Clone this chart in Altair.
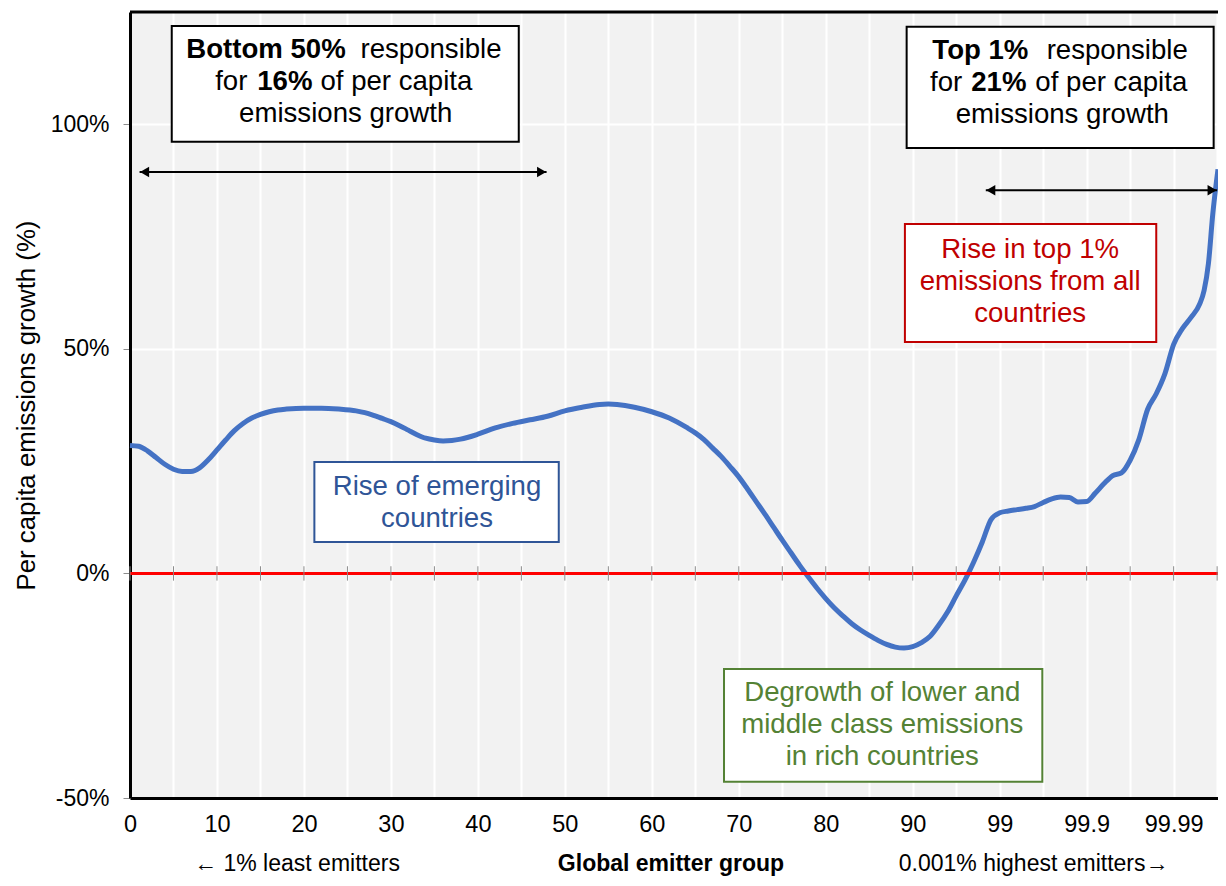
import altair as alt
import pandas as pd

FONT = "Liberation Sans, Arial, Helvetica, sans-serif"

# ---- data -------------------------------------------------------------------
# position along the emitter-group axis (category index) and growth in %
group_index = [0, 1, 2, 3, 4, 5, 6, 7, 8, 9, 10, 11, 12, 13, 14, 15, 16, 17, 18,
               20, 22, 24, 26, 27, 28, 29, 30, 31, 32, 33, 34, 35, 36, 37, 38,
               40, 42, 44, 46, 48, 50, 52, 54, 55, 56, 58, 60, 62, 64,
               65, 66, 67, 68, 69, 70, 71, 72, 73, 74, 75, 76, 77, 78, 79, 80,
               81, 82, 83, 84, 85, 86, 87, 88, 89, 90, 91, 92, 93, 94, 95, 96,
               97, 98, 99, 100, 101, 102, 103, 104, 105, 106, 107, 108, 109, 110,
               111, 112, 113, 114, 115, 116, 117, 118, 119, 120, 121, 122, 123,
               123.5, 124, 124.5, 125.1]
growth_pct = [28.5, 28.3, 27.3, 25.8, 24.3, 23.2, 22.7, 22.7, 23.5, 25.3, 27.5, 29.7,
              31.8, 33.4, 34.6, 35.4, 36.0, 36.4, 36.6,
              36.8, 36.8, 36.6, 36.2, 35.8, 35.2, 34.5, 33.8, 32.9, 31.9, 30.9, 30.1,
              29.7, 29.5, 29.6, 29.9,
              31.0, 32.4, 33.4, 34.2, 35.0, 36.2, 37.0, 37.6, 37.7, 37.6, 37.0, 36.0,
              34.6, 32.5,
              31.3, 29.8, 27.9, 26.0, 23.8, 21.5, 18.8, 16.0, 13.2, 10.3, 7.4, 4.6,
              1.8, -0.8, -3.3, -5.6, -7.7, -9.5, -11.2, -12.6, -13.8, -14.9, -15.8,
              -16.4, -16.6, -16.3, -15.4, -14.0, -11.5, -8.6, -5.0, -1.5, 2.5, 7.0,
              12.0, 13.5, 13.9, 14.2, 14.5, 14.9, 15.8, 16.6, 17.0, 16.9, 15.9, 16.0,
              17.9, 20.0, 21.8, 22.4, 25.2, 29.8, 36.5, 40.0, 44.5, 51.0, 54.5, 57.0,
              60.0, 63.0, 69.0, 80.0, 90.0]

tick_positions = [0, 10, 20, 30, 40, 50, 60, 70, 80, 90, 100, 110, 120]
tick_labels = ["0", "10", "20", "30", "40", "50", "60", "70", "80", "90",
               "99", "99.9", "99.99"]
grid_positions = list(range(0, 126, 5))
y_ticks = [-50, 0, 50, 100]

# annotation boxes (data units)
box_x = [4.8, 89.3, 89.1, 21.2, 68.3]
box_x2 = [44.7, 124.6, 118.0, 49.3, 104.9]
box_y = [121.9, 121.7, 77.8, 24.8, -21.3]
box_y2 = [96.1, 94.7, 51.5, 7.0, -46.4]
box_color = ["#000000", "#000000", "#c00000", "#2f5597", "#548235"]

# double arrows (data units)
arrow_x1 = [1.1, 98.4]
arrow_x2 = [47.9, 125.0]
arrow_y = [89.4, 85.3]

RED, BLUE, GREEN = "#c00000", "#2f5597", "#548235"
ANN = 27.6

# ---- scales / axes -----------------------------------------------------------
xs = alt.Scale(domain=[0, 125.1], nice=False, zero=False)
ys = alt.Scale(domain=[-50, 125], nice=False, zero=False)

pos_arr = "[" + ",".join(str(p) for p in tick_positions) + "]"
lab_arr = "[" + ",".join("'" + l + "'" for l in tick_labels) + "]"
label_expr = (f"indexof({pos_arr}, datum.value) >= 0 ? "
              f"{lab_arr}[indexof({pos_arr}, datum.value)] : ''")

x_axis = alt.Axis(values=grid_positions, labelExpr=label_expr, grid=True,
                  gridColor="white", gridWidth=2, ticks=False,
                  domainColor="black", domainWidth=3, labelFont=FONT,
                  labelFontSize=23.5, labelColor="black", labelPadding=14,
                  labelFlush=False, labelOverlap=False, title=None)
y_axis = alt.Axis(values=y_ticks, labelExpr="datum.value + '%'", grid=True,
                  gridColor="white", gridWidth=2, tickColor="#8c8c8c", tickSize=7,
                  domainColor="black", domainWidth=3, labelFont=FONT,
                  labelFontSize=23, labelColor="black", labelPadding=14,
                  labelFlush=False, labelOverlap=False,
                  title="Per capita emissions growth (%)", titleFont=FONT,
                  titleFontSize=25.8, titleFontWeight="normal", titleColor="black",
                  titleAngle=270, titleX=-104, titleY=393, titleAlign="center",
                  titleBaseline="middle")

curve_df = pd.DataFrame({"x": group_index, "y": growth_pct})

curve = alt.Chart(curve_df).mark_line(
    color="#4472c4", strokeWidth=5, interpolate="monotone"
).encode(x=alt.X("x:Q", scale=xs, axis=x_axis), y=alt.Y("y:Q", scale=ys, axis=y_axis))

boxes_df = pd.DataFrame({"x": box_x, "x2": box_x2, "y": box_y, "y2": box_y2, "c": box_color})
boxes = alt.Chart(boxes_df).mark_rect(fill="white", strokeWidth=2).encode(
    x="x:Q", x2="x2:Q", y="y:Q", y2="y2:Q", stroke=alt.Stroke("c:N", scale=None))

arrow_df = pd.DataFrame({"x": arrow_x1, "x2": arrow_x2, "y": arrow_y})
arrow_lines = alt.Chart(arrow_df).mark_rule(color="black", strokeWidth=2).encode(
    x="x:Q", x2="x2:Q", y="y:Q")
head_left = alt.Chart(arrow_df).mark_point(
    shape="triangle-left", filled=True, color="black", size=110, opacity=1, xOffset=5
).encode(x="x:Q", y="y:Q")
head_right = alt.Chart(arrow_df).mark_point(
    shape="triangle-right", filled=True, color="black", size=110, opacity=1, xOffset=-5
).encode(x="x2:Q", y="y:Q")

zero_line = alt.Chart(pd.DataFrame({"y": [0]})).mark_rule(
    color="#ff0000", strokeWidth=3).encode(y="y:Q")
zero_ticks = alt.Chart(pd.DataFrame({"x": grid_positions, "y": [-1.6] * len(grid_positions),
                                     "y2": [1.6] * len(grid_positions)})).mark_rule(
    color="#8c8c8c", strokeWidth=1).encode(x="x:Q", y="y:Q", y2="y2:Q")
top_border = alt.Chart(pd.DataFrame({"y": [125]})).mark_rule(
    color="black", strokeWidth=3).encode(y="y:Q")


def texts(rows, align, weight, color, size=ANN):
    df = pd.DataFrame(rows, columns=["x", "y", "t"])
    return alt.Chart(df).mark_text(
        align=align, baseline="middle", font=FONT, fontSize=size,
        fontWeight=weight, color=color, lineHeight=32
    ).encode(x="x:Q", y="y:Q", text=alt.Text("t:N"))


# box texts (mixed bold / normal segments)
t_right_bold = texts([(24.8, 116.5, "Bottom 50%"), (103.3, 116.3, "Top 1%")], "right", "bold", "black")
t_left_norm = texts([(26.5, 116.5, "responsible"), (105.4, 116.3, "responsible"),
                     (21.9, 109.4, "of per capita"), (104.1, 109.2, "of per capita")],
                    "left", "normal", "black")
t_right_norm = texts([(13.5, 109.4, "for"), (95.7, 109.2, "for")], "right", "normal", "black")
t_center_bold = texts([(17.8, 109.4, "16%"), (99.9, 109.2, "21%")], "center", "bold", "black")
t_center_norm = texts([(24.8, 102.3, "emissions growth"), (107.2, 102.1, "emissions growth")],
                      "center", "normal", "black")

# multi-line texts: y is the first line
t_red = texts([(103.5, 72.0, ["Rise in top 1%", "emissions from all", "countries"])],
              "center", "normal", RED)
t_blue = texts([(35.3, 19.2, ["Rise of emerging", "countries"])], "center", "normal", BLUE)
t_green = texts([(86.5, -26.6, ["Degrowth of lower and", "middle class emissions",
                                "in rich countries"])], "center", "normal", GREEN)

bottom_df = pd.DataFrame({"x": [19.2, 103.9], "t": ["\u2190 1% least emitters",
                                                     "0.001% highest emitters\u2192"]})
bottom_norm = alt.Chart(bottom_df).mark_text(
    align="center", baseline="bottom", font=FONT, fontSize=23, color="black"
).encode(x="x:Q", y=alt.value(864), text="t:N")
bottom_bold = alt.Chart(pd.DataFrame({"x": [62.2], "t": ["Global emitter group"]})).mark_text(
    align="center", baseline="bottom", font=FONT, fontSize=23, fontWeight="bold", color="black"
).encode(x="x:Q", y=alt.value(864), text="t:N")

chart = alt.layer(
    curve, boxes, arrow_lines, head_left, head_right, zero_line, zero_ticks, top_border,
    t_right_bold, t_left_norm, t_right_norm, t_center_bold, t_center_norm,
    t_red, t_blue, t_green, bottom_norm, bottom_bold
).properties(
    width=1088, height=786,
    autosize=alt.AutoSizeParams(type="none"),
    padding={"left": 122, "top": 4, "right": 0, "bottom": 80},
    background="white",
).configure_view(fill="#f2f2f2", strokeWidth=0)

chart.save("out.html", embed_options={"renderer": "svg", "actions": False})
